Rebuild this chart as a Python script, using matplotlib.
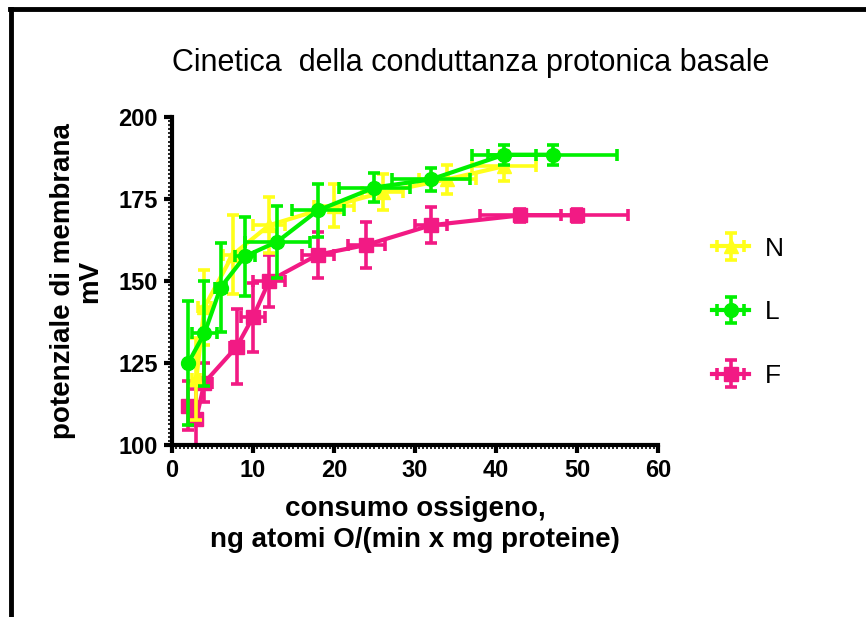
import matplotlib
matplotlib.use('Agg')
from matplotlib import pyplot as plt
from matplotlib.ticker import MultipleLocator, AutoMinorLocator
from matplotlib.lines import Line2D

plt.rcParams['font.family'] = ['Liberation Sans', 'DejaVu Sans']

## dati
N_x = [3, 4, 7.5, 12, 20, 26, 34, 41]
N_y = [120, 142, 158, 167, 173, 177, 181, 185]
N_yerr = [12.5, 11.5, 12, 8.5, 6.5, 5.5, 4.5, 4.5]
N_xerr = [0.5, 0.8, 1.2, 2, 2.5, 2.5, 3.5, 4]

L_x = [2, 4, 6, 9, 13, 18, 25, 32, 41, 47]
L_y = [125, 134, 148, 157.5, 162, 171.5, 178.5, 181, 188.5, 188.5]
L_yerr = [19, 16, 13.5, 12, 11, 8, 4.5, 3.5, 3, 3]
L_xerr = [0.3, 1.5, 0.7, 1.2, 4, 3.2, 4.4, 4.8, 4, 8]

F_x = [2, 3, 4, 8, 10, 12, 18, 24, 32, 43, 50]
F_y = [112, 108, 119, 130, 139, 150, 158, 161, 167, 170, 170]
F_yerr = [7.5, 9, 6, 11.5, 10.5, 8, 7, 7, 5.5, 2, 2]
F_xerr = [0.3, 0.3, 1.0, 0.8, 1.5, 2, 2, 2.3, 2, 5, 6.3]

labels = ['N', 'L', 'F']
colors = ['#FFFF1A', '#00F000', '#F21A84']

fig = plt.figure(figsize=(8.66, 6.17), dpi=100)
ax = fig.add_axes([0.1986, 0.2788, 0.5612, 0.5316])

## disegno le tre serie (F sotto, L sopra)
style = dict(linewidth=3, elinewidth=2.6, capsize=4.5, capthick=2.6, markersize=10)
hF = ax.errorbar(F_x, F_y, yerr=F_yerr, xerr=F_xerr, color=colors[2], marker='s', zorder=2, **style)
hN = ax.errorbar(N_x, N_y, yerr=N_yerr, xerr=N_xerr, color=colors[0], marker='^', zorder=3, **style)
hL = ax.errorbar(L_x, L_y, yerr=L_yerr, xerr=L_xerr, color=colors[1], marker='o', zorder=4, **style)

ax.set_xlim(0, 60)
ax.set_ylim(100, 200)
ax.xaxis.set_major_locator(MultipleLocator(10))
ax.yaxis.set_major_locator(MultipleLocator(25))
ax.xaxis.set_minor_locator(AutoMinorLocator(20))
ax.yaxis.set_minor_locator(AutoMinorLocator(20))

for side in ['top', 'right']:
    ax.spines[side].set_visible(False)
for side in ['left', 'bottom']:
    ax.spines[side].set_linewidth(3)

ax.tick_params(axis='both', which='major', direction='out', length=6, width=3, labelsize=17, pad=4)
ax.tick_params(axis='both', which='minor', direction='out', length=3, width=1.2)
for lab in ax.get_xticklabels() + ax.get_yticklabels():
    lab.set_fontweight('bold')

ax.set_xlabel('consumo ossigeno,\nng atomi O/(min x mg proteine)', fontsize=20, fontweight='bold', linespacing=1.25)
ax.xaxis.set_label_coords(0.5, -0.155)
ax.xaxis.label.set_va('top')
ax.set_ylabel('potenziale di membrana\nmV', fontsize=20, fontweight='bold', linespacing=1.05)
ax.yaxis.set_label_coords(-0.142, 0.5)

fig.text(0.544, 0.898, 'Cinetica  della conduttanza protonica basale', fontsize=22,
         ha='center', va='center')

## legenda a destra
fig.legend([hN, hL, hF], labels, loc='upper left', bbox_to_anchor=(0.795, 0.655),
           frameon=False, fontsize=19, labelspacing=1.5, handlelength=1.4, handletextpad=0.6)

## cornice nera in alto e a sinistra
fig.add_artist(Line2D([0.012, 1.0], [0.986, 0.986], color='black', linewidth=3.5))
fig.add_artist(Line2D([0.013, 0.013], [0.0, 0.986], color='black', linewidth=3.5))

plt.savefig('out.png', dpi=100)
